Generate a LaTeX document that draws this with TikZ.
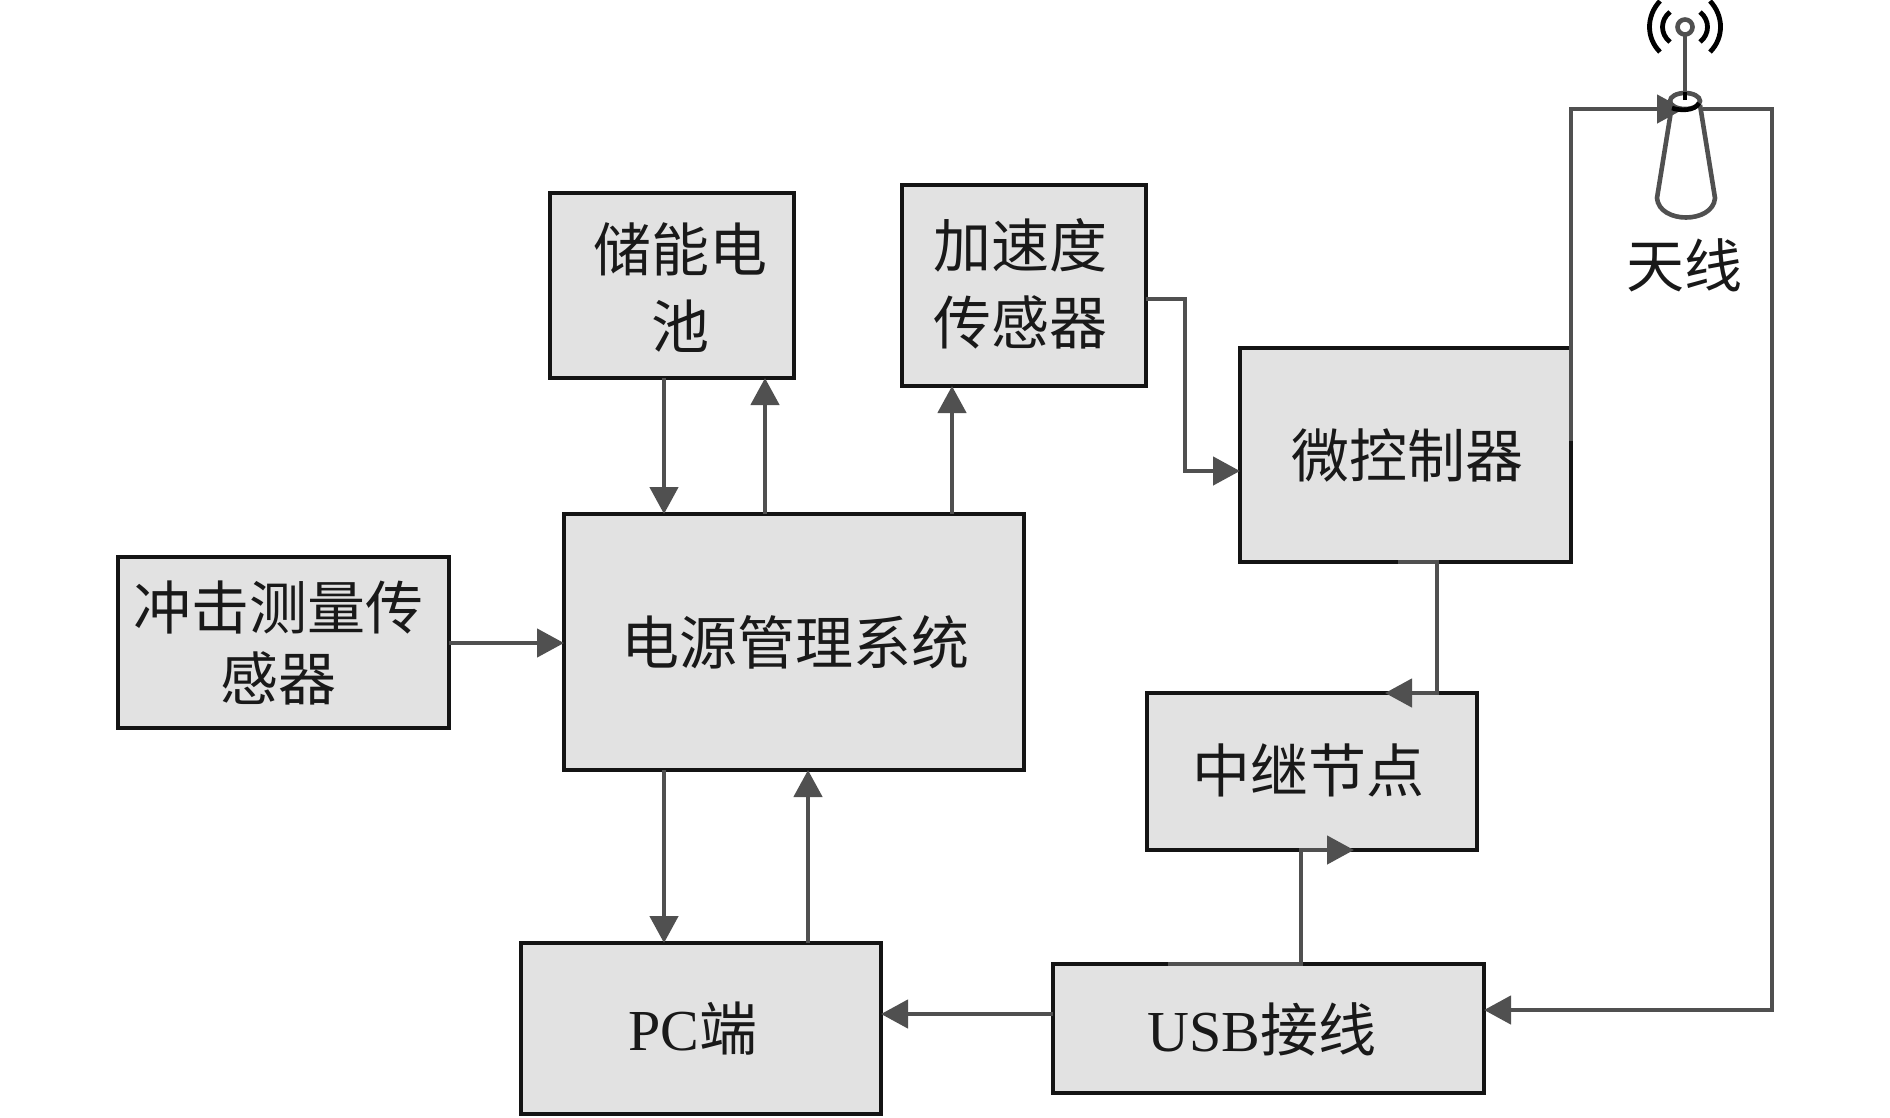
\documentclass[tikz,border=0pt]{standalone}
\usepackage{fontspec}
\usetikzlibrary{arrows.meta}
\newfontfamily\cjkfont{Noto Sans CJK SC}[Scale=1.0]
\newfontfamily\latfont{Liberation Serif}
\definecolor{boxfill}{HTML}{E2E2E2}
\definecolor{linegray}{HTML}{505050}
\newcommand{\pbox}[5]{\node[blockbox,minimum width=#4-#2,minimum height=#5-#3] (#1) at ({(#2+#4)/2},{(#3+#5)/2}) {};}
\tikzset{
  blockbox/.style={draw=black!92,fill=boxfill,line width=4.4pt,inner sep=0pt,outer sep=0pt},
  lbl/.style={font=\fontsize{58}{66}\selectfont\cjkfont,text=black!90,inner sep=0pt,align=center},
  conn/.style={draw=linegray,line width=4.6pt,-{Triangle[length=27pt,width=28pt]}},
  antline/.style={draw=linegray,line width=4.6pt},
  wave/.style={draw=black,line width=4.8pt}
}
\begin{document}
\begin{tikzpicture}[x=1pt,y=-1pt]
\useasboundingbox (0,0) rectangle (1890,1117);
\pbox{imp}{118}{557}{449}{728}
\pbox{pm}{564}{514}{1024}{770}
\pbox{bat}{550}{193}{794}{378}
\pbox{acc}{902}{185}{1146}{386}
\pbox{mcu}{1240}{348}{1571}{562}
\pbox{rel}{1147}{693}{1477}{850}
\pbox{usb}{1053}{964}{1484}{1093}
\pbox{pc}{521}{943}{881}{1114}
\node[lbl] (timp1) at (278,607) {冲击测量传};
\node[lbl] (timp2) at (278,678) {感器};
\node[lbl] (tpm) at (795,642) {电源管理系统};
\node[lbl] (tbat1) at (680,249) {储能电};
\node[lbl] (tbat2) at (680,326) {池};
\node[lbl] (tacc1) at (1020,245) {加速度};
\node[lbl] (tacc2) at (1020,322) {传感器};
\node[lbl] (tmcu) at (1407,455) {微控制器};
\node[lbl] (trel) at (1308,770) {中继节点};
\node[lbl] (tpc) at (693,1029) {{\latfont PC}端};
\node[lbl] (tusb) at (1262,1029) {{\latfont USB}接线};
\node[lbl] (tant) at (1684,265) {天线};
\coordinate (antin) at (1684,109);
\coordinate (antout) at (1703,109);
% connectors
\draw[conn] ([xshift=114]bat.south west) -- ([xshift=100]pm.north west);
\draw[conn] ([xshift=215]bat.south west |- pm.north) -- ([xshift=215]bat.south west);
\draw[conn] ([xshift=388]pm.north west) -- ([xshift=50]acc.south west);
\draw[conn] ([yshift=-114]acc.north east) -- ++(39,0) |- ([yshift=-123]mcu.north west);
\draw[conn] ([yshift=-93]mcu.north east) |- (antin);
\draw[conn] (antout) -- ++(69,0) |- ([yshift=-46]usb.north east);
\draw[conn] ([xshift=158]mcu.south west) -- ([xshift=197]mcu.south west) |- ([xshift=238]rel.north west);
\draw[conn] ([xshift=115]usb.north west) -- ([xshift=248]usb.north west) |- ([xshift=207]rel.south west);
\draw[conn] ([yshift=-50]usb.north west) -- ([yshift=-71]pc.north east);
\draw[conn] ([yshift=-86]imp.north east) -- ([yshift=-129]pm.north west);
\draw[conn] ([xshift=100]pm.south west) -- ([xshift=143]pc.north west);
\draw[conn] ([xshift=287]pc.north west) -- ([xshift=244]pm.south west);
% antenna
\draw[antline] (1672,105) -- (1657,198) .. controls (1659,224) and (1713,224) .. (1715,198) -- (1700,105);
\draw[antline,fill=white] (1685,101) ellipse [x radius=15,y radius=8];
\draw[line width=4.6pt,draw=black] (1672,108) .. controls (1680,111) and (1695,111) .. (1699,103);
\draw[antline] (1685,100) -- (1685,35);
\draw[line width=4.6pt,draw=black] (1685,92) -- (1685,100);
\draw[antline,fill=white] (1685,27) circle [radius=7.5];
\draw[wave] (1670,12) .. controls (1660,20) and (1660,34) .. (1670,42);
\draw[wave] (1700,12) .. controls (1710,20) and (1710,34) .. (1700,42);
\draw[wave] (1660,1) .. controls (1646,16) and (1646,38) .. (1660,52);
\draw[wave] (1710,1) .. controls (1724,16) and (1724,38) .. (1710,52);
\end{tikzpicture}
\end{document}
